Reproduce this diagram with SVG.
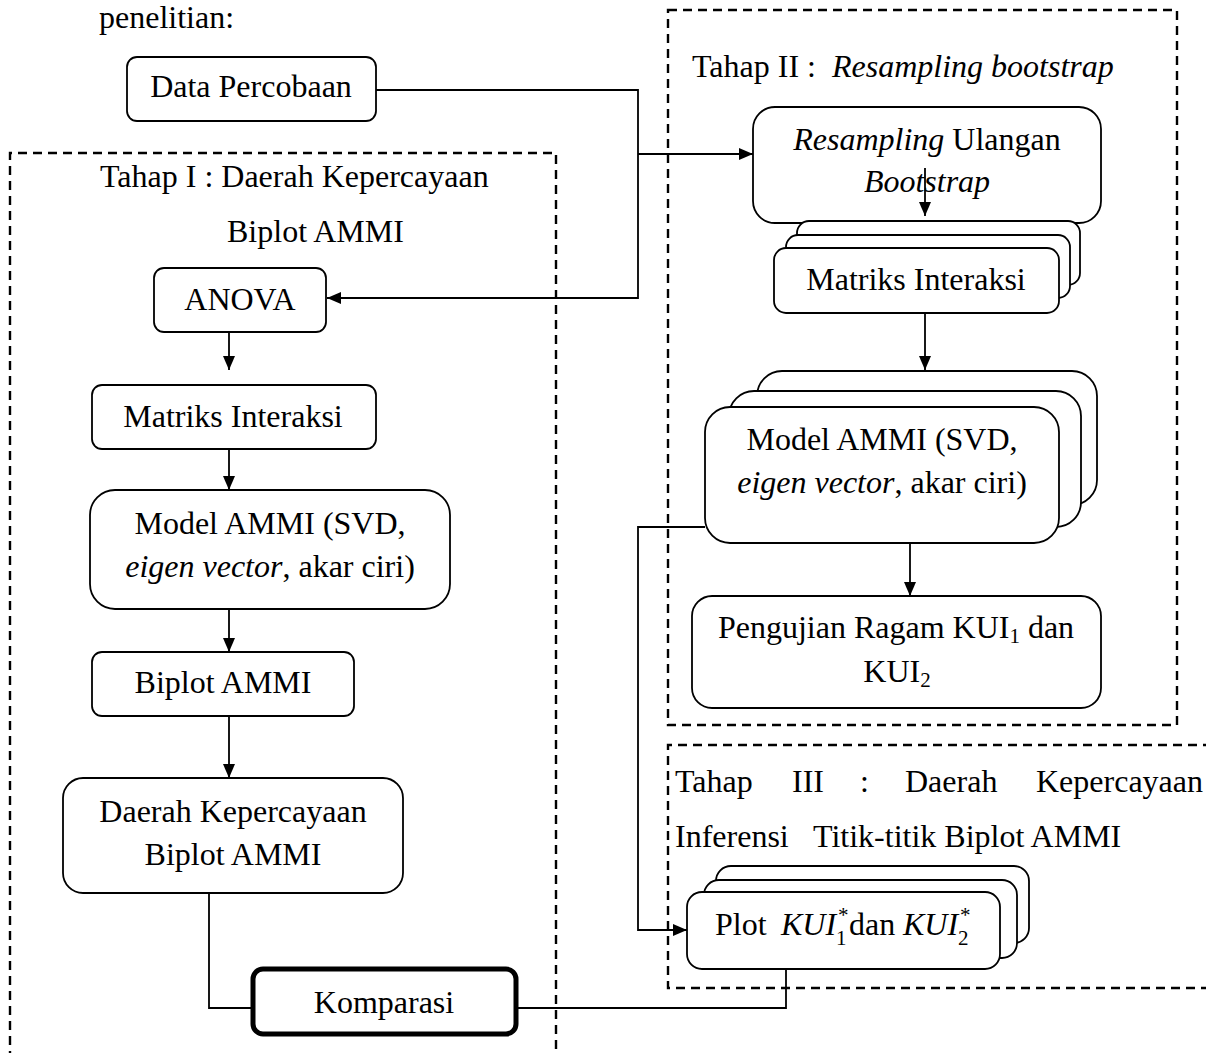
<svg xmlns="http://www.w3.org/2000/svg" width="1206" height="1053" viewBox="0 0 1206 1053">
<style>
  text { font-family: "Liberation Serif", "Times New Roman", serif; font-size: 32px; fill: #000; }
  .c { text-anchor: middle; }
  .i { font-style: italic; }
  .box { fill: #fff; stroke: #000; stroke-width: 1.8; }
  .thick { fill: #fff; stroke: #000; stroke-width: 5; }
  .dash { fill: none; stroke: #000; stroke-width: 2.4; stroke-dasharray: 9 6; }
  .ln { fill: none; stroke: #000; stroke-width: 1.8; }
  .ar { fill: none; stroke: #000; stroke-width: 1.8; marker-end: url(#ah); }
  .sm { font-size: 21px; }
</style>
<defs>
  <marker id="ah" markerUnits="userSpaceOnUse" markerWidth="14" markerHeight="12" refX="14" refY="6" orient="auto">
    <path d="M0,0 L14,6 L0,12 z" fill="#000"/>
  </marker>
</defs>
<rect width="1206" height="1053" fill="#fff"/>

<text x="99" y="28">penelitian:</text>

<g id="stages">
  <path class="dash" d="M10,1060 V153 H556 V1060"/>
  <text x="100" y="187">Tahap I : Daerah Kepercayaan</text>
  <text x="227" y="242">Biplot AMMI</text>
  <rect class="dash" x="668" y="10" width="509" height="715"/>
  <text x="692" y="77">Tahap II : <tspan x="832" class="i">Resampling bootstrap</tspan></text>
  <path class="dash" d="M1212,745 H668 V988 H1212"/>
  <text y="792"><tspan x="675">Tahap</tspan><tspan x="792">III</tspan><tspan x="860">:</tspan><tspan x="905">Daerah</tspan><tspan x="1036">Kepercayaan</tspan></text>
  <text y="847"><tspan x="675">Inferensi</tspan><tspan x="813">Titik-titik Biplot AMMI</tspan></text>
</g>

<g id="connectors">
  <path class="ar" d="M376,90 H638 V298 H327"/>
  <path class="ar" d="M638,154 H753"/>
  <path class="ar" d="M925,168 V216"/>
  <path class="ar" d="M925,313 V370"/>
  <path class="ar" d="M910,543 V596"/>
  <path class="ar" d="M705,527 H638 V930 H687"/>
  <path class="ar" d="M229,332 V370"/>
  <path class="ar" d="M229,449 V490"/>
  <path class="ar" d="M229,609 V652"/>
  <path class="ar" d="M229,716 V778"/>
  <path class="ln" d="M209,888 V1008 H253"/>
  <path class="ln" d="M516,1008 H786 V969"/>
</g>

<g id="data-percobaan">
  <rect class="box" x="127" y="57" width="249" height="64" rx="10"/>
  <text class="c" x="251" y="97">Data Percobaan</text>
</g>

<g id="anova">
  <rect class="box" x="154" y="268" width="172" height="64" rx="10"/>
  <text class="c" x="240" y="310">ANOVA</text>
</g>

<g id="matriks-1">
  <rect class="box" x="92" y="385" width="284" height="64" rx="10"/>
  <text class="c" x="233" y="427">Matriks Interaksi</text>
</g>

<g id="model-1">
  <rect class="box" x="90" y="490" width="360" height="119" rx="25"/>
  <text class="c" x="270" y="534">Model AMMI (SVD,</text>
  <text class="c" x="270" y="577"><tspan class="i">eigen vector</tspan>, akar ciri)</text>
</g>

<g id="biplot">
  <rect class="box" x="92" y="652" width="262" height="64" rx="10"/>
  <text class="c" x="223" y="693">Biplot AMMI</text>
</g>

<g id="daerah">
  <rect class="box" x="63" y="778" width="340" height="115" rx="20"/>
  <text class="c" x="233" y="822">Daerah Kepercayaan</text>
  <text class="c" x="233" y="865">Biplot AMMI</text>
</g>

<g id="komparasi">
  <rect class="thick" x="253" y="969" width="263" height="65" rx="10"/>
  <text class="c" x="384" y="1013">Komparasi</text>
</g>

<g id="resampling">
  <rect class="box" x="753" y="107" width="348" height="116" rx="22" style="fill:none"/>
  <text class="c" x="927" y="150"><tspan class="i">Resampling</tspan> Ulangan</text>
  <text class="c i" x="927" y="192">Bootstrap</text>
</g>

<g id="matriks-2">
  <rect class="box" x="797" y="221" width="283" height="64" rx="12"/>
  <rect class="box" x="786" y="235" width="284" height="63" rx="12"/>
  <rect class="box" x="774" y="248" width="285" height="65" rx="12"/>
  <text class="c" x="916" y="290">Matriks Interaksi</text>
</g>

<g id="model-2">
  <rect class="box" x="757" y="371" width="340" height="134" rx="25"/>
  <rect class="box" x="729" y="391" width="352" height="136" rx="25"/>
  <rect class="box" x="705" y="407" width="354" height="136" rx="25"/>
  <text class="c" x="882" y="450">Model AMMI (SVD,</text>
  <text class="c" x="882" y="493"><tspan class="i">eigen vector</tspan>, akar ciri)</text>
</g>

<g id="pengujian">
  <rect class="box" x="692" y="596" width="409" height="112" rx="20"/>
  <text class="c" x="896" y="638">Pengujian Ragam KUI<tspan class="sm" dy="5">1</tspan><tspan dy="-5"> dan</tspan></text>
  <text class="c" x="897" y="682">KUI<tspan class="sm" dy="5">2</tspan></text>
</g>

<g id="plot">
  <rect class="box" x="716" y="866" width="313" height="77" rx="15"/>
  <rect class="box" x="704" y="880" width="313" height="78" rx="15"/>
  <rect class="box" x="687" y="892" width="313" height="77" rx="15"/>
  <text y="935"><tspan x="715">Plot</tspan><tspan x="781" class="i">KUI</tspan><tspan x="838" y="922" class="sm">*</tspan><tspan x="836" y="945" class="sm">1</tspan><tspan x="849" y="935">dan</tspan><tspan x="903" class="i">KUI</tspan><tspan x="960" y="922" class="sm">*</tspan><tspan x="958" y="945" class="sm">2</tspan></text>
</g>
</svg>
